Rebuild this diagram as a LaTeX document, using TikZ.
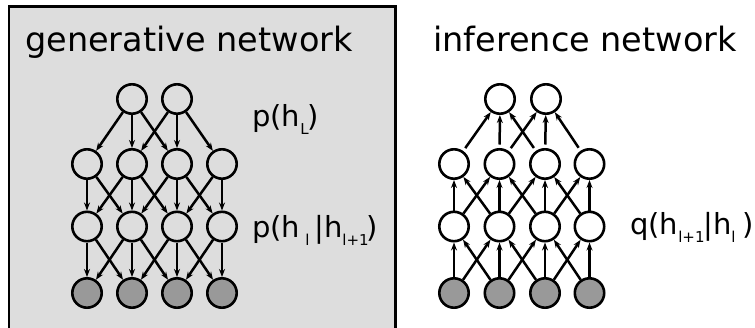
\documentclass[tikz,border=0pt]{standalone}
\usepackage{fontspec}
\setmainfont{DejaVu Sans}
\usetikzlibrary{arrows.meta}
\definecolor{panelgray}{HTML}{DDDDDD}
\definecolor{obsgray}{HTML}{999999}
% subscript set low, in a box of fixed width
\newcommand{\lowsub}[2]{\makebox[#1][l]{\raisebox{-8pt}{\fontsize{15}{15}\selectfont #2}}}

\begin{document}
\begin{tikzpicture}[x=1pt,y=-1pt,
  unit/.style={circle,draw,line width=2.6pt,minimum size=29.4pt,inner sep=0pt},
  obs/.style={unit,fill=obsgray},
  edge/.style={line width=2.5pt,-{Stealth[length=8pt,width=6pt]}},
  title/.style={anchor=base west,font=\fontsize{33.5}{40}\selectfont,inner sep=0pt},
  lbl/.style={anchor=base west,font=\fontsize{29}{34}\selectfont,inner sep=0pt}]

\useasboundingbox (0,0) rectangle (755,327);

% shaded panel of the generative network, open at the bottom
\begin{scope}
  \clip (0,0) rectangle (755,327);
  \draw[line width=2.5pt,fill=panelgray] (9,6.5) rectangle (395.5,345);
\end{scope}

\node[title] (gtitle) at (25,51) {generative network};
\node[title] (ititle) at (433,51) {inference network};

% generative network units
\node[unit] (gA2) at (132,99) {};
\node[unit] (gA3) at (177,99) {};
\foreach \j/\x in {1/87,2/132,3/177,4/222} {
  \node[unit] (gB\j) at (\x,164) {};
  \node[unit] (gC\j) at (\x,226.5) {};
  \node[obs]  (gD\j) at (\x,293) {};
}

% inference network units
\node[unit] (iA2) at (500,99) {};
\node[unit] (iA3) at (546,99) {};
\foreach \j/\x in {1/454,2/499.5,3/545,4/589.5} {
  \node[unit] (iB\j) at (\x,164) {};
  \node[unit] (iC\j) at (\x,226.5) {};
  \node[obs]  (iD\j) at (\x,293) {};
}

% top-down connections of the generative network
\foreach \t in {2,3} {
  \foreach \j in {1,...,4} {
    \pgfmathtruncatemacro\d{abs(\t-\j)}
    \ifnum\d<2 \draw[edge] (gA\t) -- (gB\j); \fi
  }
}
\foreach \i in {1,...,4} {
  \foreach \j in {1,...,4} {
    \pgfmathtruncatemacro\d{abs(\i-\j)}
    \ifnum\d<2
      \draw[edge] (gB\i) -- (gC\j);
      \draw[edge] (gC\i) -- (gD\j);
    \fi
  }
}

% bottom-up connections of the inference network
\foreach \t in {2,3} {
  \foreach \j in {1,...,4} {
    \pgfmathtruncatemacro\d{abs(\t-\j)}
    \ifnum\d<2 \draw[edge,shorten <=3.5pt] (iB\j) -- (iA\t); \fi
  }
}
\foreach \i in {1,...,4} {
  \foreach \j in {1,...,4} {
    \pgfmathtruncatemacro\d{abs(\i-\j)}
    \ifnum\d<2
      \draw[edge] (iC\j) -- (iB\i);
      \draw[edge] (iD\j) -- (iC\i);
    \fi
  }
}

% distributions
\node[lbl] (ptop) at (252,126) {p(h\lowsub{7pt}{L})};
\node[lbl] (pcond) at (252,237) {p(h\lowsub{14pt}{\kern5pt l}|h\lowsub{24pt}{l+1})};
\node[lbl] (qcond) at (630,234) {q(h\lowsub{25pt}{l+1}|h\lowsub{11pt}{l})};

\end{tikzpicture}
\end{document}
